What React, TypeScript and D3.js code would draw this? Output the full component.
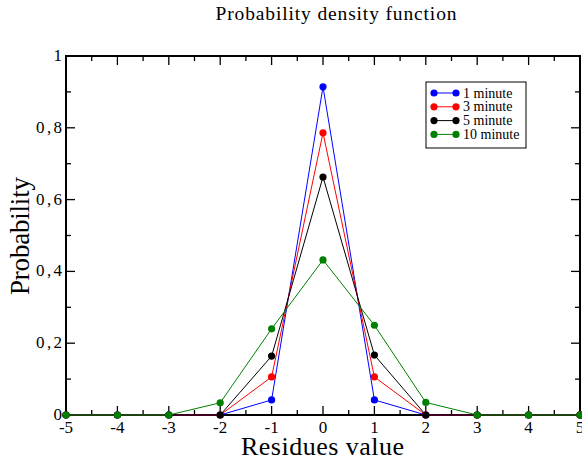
import React from "react";
import * as d3 from "d3";

const residues = [-5, -4, -3, -2, -1, 0, 1, 2, 3, 4, 5];
const seriesNames = ["1 minute", "3 minute", "5 minute", "10 minute"];
const seriesColors = ["#0000ff", "#ff0000", "#000000", "#008000"];
const oneMinute = [0, 0, 0, 0, 0.042, 0.914, 0.042, 0, 0, 0, 0];
const threeMinute = [0, 0, 0, 0, 0.106, 0.786, 0.106, 0, 0, 0, 0];
const fiveMinute = [0, 0, 0, 0, 0.164, 0.663, 0.167, 0, 0, 0, 0];
const tenMinute = [0, 0, 0, 0.034, 0.24, 0.432, 0.25, 0.035, 0, 0, 0];
const seriesValues = [oneMinute, threeMinute, fiveMinute, tenMinute];
const yTicks = [0, 0.2, 0.4, 0.6, 0.8, 1];
const xTicks = [-5, -4, -3, -2, -1, 0, 1, 2, 3, 4, 5];

const W = 582;
const H = 462;
const left = 66;
const right = 580;
const top = 56;
const bottom = 415;

const fmt = (v: number) => (v === 0 || v === 1 ? String(v) : String(v).replace(".", ","));

export default function App() {
  const x = d3.scaleLinear().domain([-5, 5]).range([left, right]);
  const y = d3.scaleLinear().domain([0, 1]).range([bottom, top]);
  const line = d3
    .line<number>()
    .x((_, i) => x(residues[i]))
    .y((v) => y(v));

  const minorX = d3.range(-4.5, 5, 1);
  const minorY = d3.range(0.1, 1, 0.2);
  const font = "'Liberation Serif', 'Times New Roman', serif";

  return (
    <svg
      width={W}
      height={H}
      style={{ position: "absolute", left: 0, top: 0, background: "#fff" }}
      fontFamily={font}
    >
      <text x={336} y={20} textAnchor="middle" fontSize={19.5} textLength={241} lengthAdjust="spacing">
        Probability density function
      </text>

      {/* frame */}
      <rect x={left} y={top} width={right - left} height={bottom - top} fill="none" stroke="#000" strokeWidth={2} />

      {/* x ticks */}
      {xTicks.map((t) => (
        <g key={"x" + t}>
          <line x1={x(t)} x2={x(t)} y1={bottom} y2={bottom - 9} stroke="#000" strokeWidth={1.3} />
          <line x1={x(t)} x2={x(t)} y1={top} y2={top + 9} stroke="#000" strokeWidth={1.3} />
          <text x={x(t)} y={bottom + 18} textAnchor="middle" fontSize={17}>
            {t}
          </text>
        </g>
      ))}
      {minorX.map((t) => (
        <g key={"mx" + t}>
          <line x1={x(t)} x2={x(t)} y1={bottom} y2={bottom - 5} stroke="#000" strokeWidth={1.3} />
          <line x1={x(t)} x2={x(t)} y1={top} y2={top + 5} stroke="#000" strokeWidth={1.3} />
        </g>
      ))}

      {/* y ticks */}
      {yTicks.map((t) => {
        const label = fmt(t);
        return (
          <g key={"y" + t}>
            <line x1={left} x2={left + 9} y1={y(t)} y2={y(t)} stroke="#000" strokeWidth={1.3} />
            <line x1={right} x2={right - 9} y1={y(t)} y2={y(t)} stroke="#000" strokeWidth={1.3} />
            {label.length > 1 ? (
              <text x={left - 30} y={y(t) + 5} fontSize={17} textLength={26} lengthAdjust="spacing">
                {label}
              </text>
            ) : (
              <text x={left - 4} y={y(t) + 5} textAnchor="end" fontSize={17}>
                {label}
              </text>
            )}
          </g>
        );
      })}
      {minorY.map((t) => (
        <g key={"my" + t}>
          <line x1={left} x2={left + 5} y1={y(t)} y2={y(t)} stroke="#000" strokeWidth={1.3} />
          <line x1={right} x2={right - 5} y1={y(t)} y2={y(t)} stroke="#000" strokeWidth={1.3} />
        </g>
      ))}

      <text x={322.5} y={455} textAnchor="middle" fontSize={26} textLength={163} lengthAdjust="spacing">
        Residues value
      </text>
      <text
        transform={`translate(29,236) rotate(-90)`}
        textAnchor="middle"
        fontSize={27}
        textLength={118}
        lengthAdjust="spacing"
      >
        Probability
      </text>

      {/* series */}
      {seriesValues.map((vals, si) => (
        <g key={seriesNames[si]}>
          <path d={line(vals) ?? ""} fill="none" stroke={seriesColors[si]} strokeWidth={1} />
          {vals.map((v, i) => (
            <circle key={i} cx={x(residues[i])} cy={y(v)} r={3.6} fill={seriesColors[si]} />
          ))}
        </g>
      ))}

      {/* legend */}
      <rect x={426} y={82} width={100} height={66} fill="#fff" stroke="#000" strokeWidth={1} />
      {seriesNames.map((n, i) => {
        const ly = 93 + i * 13.8;
        return (
          <g key={"lg" + n}>
            <line x1={434} x2={456} y1={ly} y2={ly} stroke={seriesColors[i]} strokeWidth={1} />
            <circle cx={434} cy={ly} r={3.6} fill={seriesColors[i]} />
            <circle cx={456} cy={ly} r={3.6} fill={seriesColors[i]} />
            <text x={463} y={ly + 4.5} fontSize={14}>
              {n}
            </text>
          </g>
        );
      })}
    </svg>
  );
}
